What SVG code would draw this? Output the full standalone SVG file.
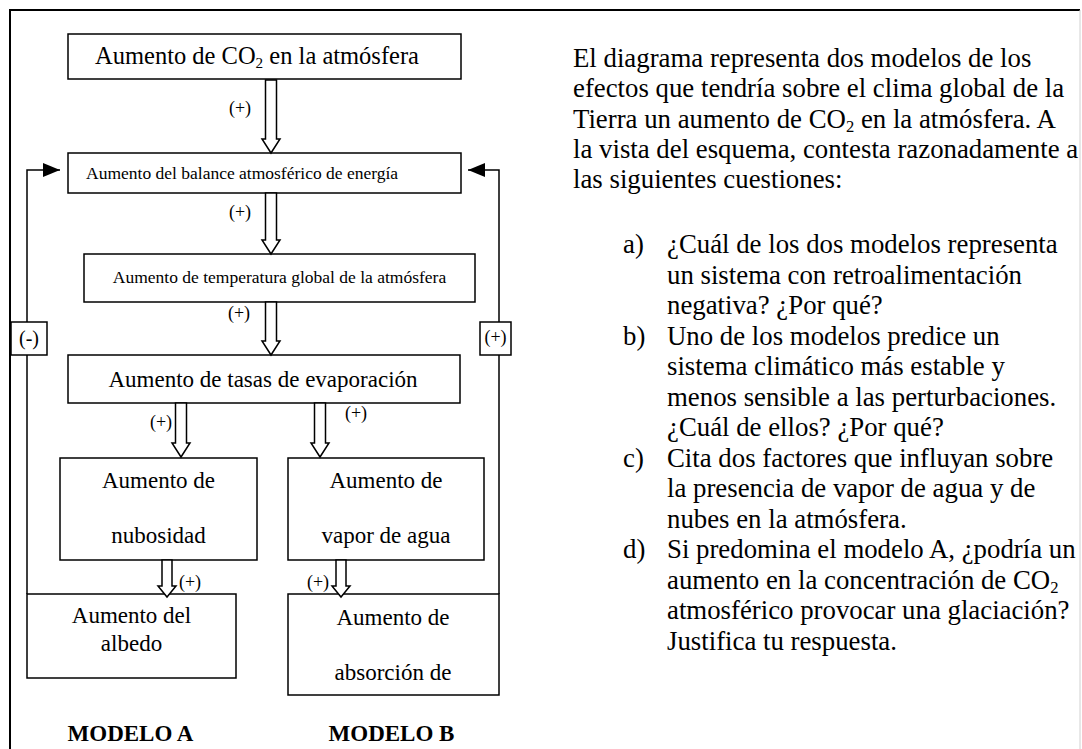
<svg xmlns="http://www.w3.org/2000/svg" width="1082" height="749" viewBox="0 0 1082 749">
<style>
  text { font-family: "Liberation Serif", "Times New Roman", serif; fill: #000; }
  .box { fill: #fff; stroke: #000; stroke-width: 1.5; }
  .big { font-size: 23px; text-anchor: middle; }
  .small { font-size: 17.5px; text-anchor: middle; }
  .lbl { font-size: 18px; text-anchor: middle; }
  .arrow { fill: #fff; stroke: #000; stroke-width: 1.5; stroke-linejoin: miter; }
  .fb { fill: none; stroke: #000; stroke-width: 1.5; marker-end: url(#tri); }
  .model { font-size: 23px; font-weight: bold; text-anchor: middle; }
  .para { font-size: 26.8px; }
  .sub { font-size: 0.62em; }
</style>
<defs>
  <marker id="tri" markerUnits="userSpaceOnUse" markerWidth="18" markerHeight="16" refX="17" refY="7" orient="auto">
    <path d="M0,0 L17,7 L0,14 Z" fill="#000"/>
  </marker>
</defs>
<rect width="1082" height="749" fill="#fff"/>
<g id="frame">
  <path d="M10,749 V10 H1080" fill="none" stroke="#000" stroke-width="2"/>
  <path d="M1080,10 V749" fill="none" stroke="#d0d0d0" stroke-width="1"/>
</g>

<g id="n-co2">
  <rect class="box" x="68" y="34" width="393" height="45"/>
  <text class="big" x="257" y="64" style="font-size:24.5px">Aumento de CO<tspan class="sub" dy="4">2</tspan><tspan dy="-4"> en la atmósfera</tspan></text>
</g>
<g id="n-balance">
  <rect class="box" x="68" y="153" width="393" height="40"/>
  <text class="small" x="86" y="179" style="text-anchor:start">Aumento del balance atmosférico de energía</text>
</g>
<g id="n-temp">
  <rect class="box" x="84" y="254" width="391" height="48"/>
  <text class="small" x="279.5" y="283">Aumento de temperatura global de la atmósfera</text>
</g>
<g id="n-evap">
  <rect class="box" x="68" y="355" width="392" height="48"/>
  <text class="big" x="263" y="387">Aumento de tasas de evaporación</text>
</g>
<g id="n-nubosidad">
  <rect class="box" x="60" y="458" width="197" height="102"/>
  <text class="big" x="158.5" y="488">Aumento de</text>
  <text class="big" x="158.5" y="543">nubosidad</text>
</g>
<g id="n-vapor">
  <rect class="box" x="288" y="458" width="196" height="102"/>
  <text class="big" x="386" y="488">Aumento de</text>
  <text class="big" x="386" y="543">vapor de agua</text>
</g>
<g id="n-albedo">
  <rect class="box" x="27" y="594" width="209" height="84"/>
  <text class="big" x="131.5" y="623">Aumento del</text>
  <text class="big" x="131.5" y="651">albedo</text>
</g>
<g id="n-absorcion">
  <rect class="box" x="288" y="594" width="211" height="101"/>
  <text class="big" x="393" y="625">Aumento de</text>
  <text class="big" x="393" y="680">absorción de</text>
</g>

<g id="connectors">
  <path class="arrow" d="M265.5,80 V139 H262 L271,153 L280,139 H276.5 V80 Z"/>
  <path class="arrow" d="M265.5,193 V240 H262 L271,254 L280,240 H276.5 V193 Z"/>
  <path class="arrow" d="M265.5,302 V341 H262 L271,355 L280,341 H276.5 V302 Z"/>
  <path class="arrow" d="M175.5,403 V443 H172 L181,457 L190,443 H186.5 V403 Z"/>
  <path class="arrow" d="M314.5,403 V443 H311 L320,457 L329,443 H325.5 V403 Z"/>
  <path class="arrow" d="M162,560 V586 H158 L167,597 L176,586 H172 V560 Z"/>
  <path class="arrow" d="M336,560 V586 H332 L341,597 L350,586 H346 V560 Z"/>
  <text class="lbl" x="240" y="114">(+)</text>
  <text class="lbl" x="240" y="218">(+)</text>
  <text class="lbl" x="239" y="319">(+)</text>
  <text class="lbl" x="161" y="428">(+)</text>
  <text class="lbl" x="356" y="419">(+)</text>
  <text class="lbl" x="190" y="588">(+)</text>
  <text class="lbl" x="318" y="588">(+)</text>
  <path class="fb" d="M27,594 V170 H60"/>
  <path class="fb" d="M499,594 V170 H468"/>
  <rect class="box" x="11" y="322" width="36" height="33"/>
  <text x="29" y="345" style="font-size:20px;text-anchor:middle">(-)</text>
  <rect class="box" x="480" y="322" width="31" height="33"/>
  <text x="495.5" y="343" style="font-size:18px;text-anchor:middle">(+)</text>
</g>

<g id="models">
  <text class="model" x="130.5" y="741">MODELO A</text>
  <text class="model" x="391.5" y="741">MODELO B</text>
</g>

<g id="questions" class="para">
  <text class="para" x="573" y="67">El diagrama representa dos modelos de los</text>
  <text class="para" x="573" y="97.3">efectos que tendría sobre el clima global de la</text>
  <text class="para" x="573" y="127.6">Tierra un aumento de CO<tspan class="sub" dy="4">2</tspan><tspan dy="-4"> en la atmósfera. A</tspan></text>
  <text class="para" x="573" y="157.9">la vista del esquema, contesta razonadamente a</text>
  <text class="para" x="573" y="188.2">las siguientes cuestiones:</text>

  <text class="para" x="623" y="253">a)</text>
  <text class="para" x="667" y="253">¿Cuál de los dos modelos representa</text>
  <text class="para" x="667" y="283.5">un sistema con retroalimentación</text>
  <text class="para" x="667" y="314">negativa? ¿Por qué?</text>
  <text class="para" x="623" y="344.5">b)</text>
  <text class="para" x="667" y="344.5">Uno de los modelos predice un</text>
  <text class="para" x="667" y="375">sistema climático más estable y</text>
  <text class="para" x="667" y="405.5">menos sensible a las perturbaciones.</text>
  <text class="para" x="667" y="436">¿Cuál de ellos? ¿Por qué?</text>
  <text class="para" x="623" y="466.5">c)</text>
  <text class="para" x="667" y="466.5">Cita dos factores que influyan sobre</text>
  <text class="para" x="667" y="497">la presencia de vapor de agua y de</text>
  <text class="para" x="667" y="527.5">nubes en la atmósfera.</text>
  <text class="para" x="623" y="558">d)</text>
  <text class="para" x="667" y="558">Si predomina el modelo A, ¿podría un</text>
  <text class="para" x="667" y="588.5">aumento en la concentración de CO<tspan class="sub" dy="4">2</tspan></text>
  <text class="para" x="667" y="619">atmosférico provocar una glaciación?</text>
  <text class="para" x="667" y="649.5">Justifica tu respuesta.</text>
</g>
</svg>
